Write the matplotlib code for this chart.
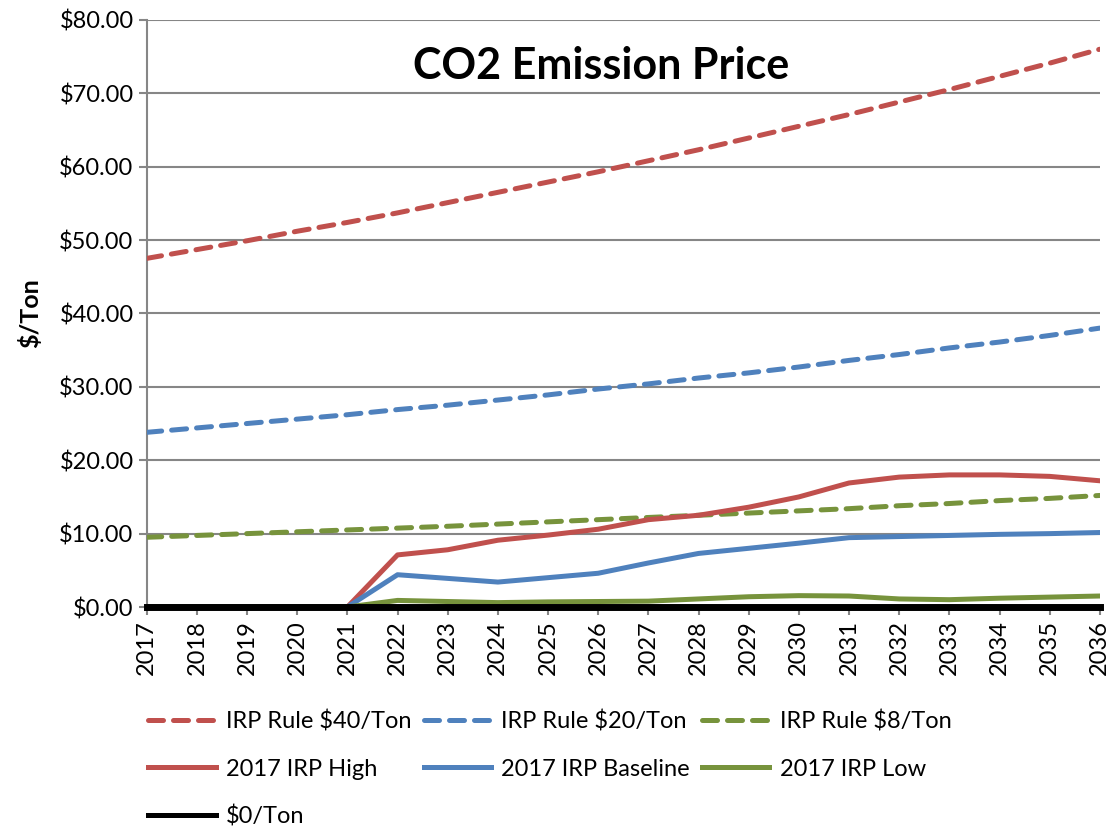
import matplotlib
matplotlib.use("Agg")
from matplotlib import pyplot as plt
from matplotlib.lines import Line2D

plt.rcParams['font.family'] = ['Lato', 'DejaVu Sans']

years = list(range(2017, 2037))

# IRP rule price paths ($/ton)
rule_40 = [47.5, 48.7, 49.9, 51.2, 52.4, 53.7, 55.1, 56.5, 57.9, 59.3,
           60.8, 62.3, 63.9, 65.5, 67.1, 68.8, 70.5, 72.3, 74.1, 76.0]
rule_20 = [23.8, 24.4, 25.0, 25.6, 26.2, 26.9, 27.5, 28.2, 28.9, 29.7,
           30.4, 31.2, 31.9, 32.7, 33.6, 34.4, 35.3, 36.1, 37.0, 38.0]
rule_8 = [9.5, 9.75, 10.0, 10.25, 10.5, 10.75, 11.0, 11.3, 11.6, 11.9,
          12.2, 12.5, 12.8, 13.1, 13.4, 13.8, 14.1, 14.5, 14.8, 15.2]

# 2017 IRP scenarios
irp_high = [0, 0, 0, 0, 0, 7.1, 7.8, 9.1, 9.8, 10.6,
            11.9, 12.5, 13.6, 15.0, 16.9, 17.7, 18.0, 18.0, 17.8, 17.2]
irp_base = [0, 0, 0, 0, 0, 4.4, 3.9, 3.4, 4.0, 4.6,
            6.0, 7.3, 8.0, 8.7, 9.45, 9.6, 9.75, 9.9, 10.0, 10.15]
irp_low = [0, 0, 0, 0, 0, 0.9, 0.75, 0.6, 0.7, 0.75,
           0.8, 1.1, 1.4, 1.55, 1.5, 1.1, 1.0, 1.2, 1.35, 1.5]
zero_ton = [0] * 20

yticks = [0, 10, 20, 30, 40, 50, 60, 70, 80]
ytick_labels = ["$%.2f" % v for v in yticks]

red = '#C0504D'
blue = '#4F81BD'
green = '#77933C'
grid_gray = '#868686'

fig = plt.figure(figsize=(11.2, 8.27), dpi=100)
ax = fig.add_axes([0.131, 0.266, 0.851, 0.710])

lw = 3.6
dash = (3, 2)
ax.plot(years, rule_40, color=red, lw=lw, dashes=dash, dash_capstyle='round', zorder=3)
ax.plot(years, rule_20, color=blue, lw=lw, dashes=dash, dash_capstyle='round', zorder=3)
ax.plot(years, rule_8, color=green, lw=lw, dashes=dash, dash_capstyle='round', zorder=3)
ax.plot(years, irp_high, color=red, lw=lw, zorder=3)
ax.plot(years, irp_base, color=blue, lw=lw, zorder=3)
ax.plot(years, irp_low, color=green, lw=lw, zorder=3)
ax.plot(years, zero_ton, color='black', lw=5, zorder=4, clip_on=False)

ax.set_xlim(2017, 2036)
ax.set_ylim(0, 80)
ax.set_yticks(yticks)
ax.set_yticklabels(ytick_labels)
ax.set_xticks(years)
ax.set_xticklabels([str(y) for y in years], rotation=90)
ax.tick_params(axis='both', labelsize=17, color=grid_gray, width=1.5, length=6, direction='out')
ax.yaxis.grid(True, color=grid_gray, lw=1.5)
ax.set_axisbelow(True)
for s in ['top', 'right']:
    ax.spines[s].set_visible(False)
for s in ['left', 'bottom']:
    ax.spines[s].set_color(grid_gray)
    ax.spines[s].set_linewidth(1.5)

ax.set_ylabel('$/Ton', fontsize=18, fontweight='bold', labelpad=12)
ax.text(0.477, 0.922, 'CO2 Emission Price', transform=ax.transAxes, ha='center', va='center',
        fontsize=31, fontweight='bold')

# legend entries in column order so rows read left to right
handles = [
    Line2D([], [], color=red, lw=lw, dashes=dash, dash_capstyle='round'),
    Line2D([], [], color=red, lw=lw),
    Line2D([], [], color='black', lw=lw),
    Line2D([], [], color=blue, lw=lw, dashes=dash, dash_capstyle='round'),
    Line2D([], [], color=blue, lw=lw),
    Line2D([], [], color=green, lw=lw, dashes=dash, dash_capstyle='round'),
    Line2D([], [], color=green, lw=lw),
]
labels = ['IRP Rule $40/Ton', '2017 IRP High', '$0/Ton',
          'IRP Rule $20/Ton', '2017 IRP Baseline',
          'IRP Rule $8/Ton', '2017 IRP Low']
fig.legend(handles, labels, ncol=3, loc='upper left', bbox_to_anchor=(0.124, 0.152),
           frameon=False, fontsize=17, handlelength=2.85, handletextpad=0.45,
           columnspacing=0.5, labelspacing=1.1, borderaxespad=0)

fig.savefig('out.png', dpi=100)
